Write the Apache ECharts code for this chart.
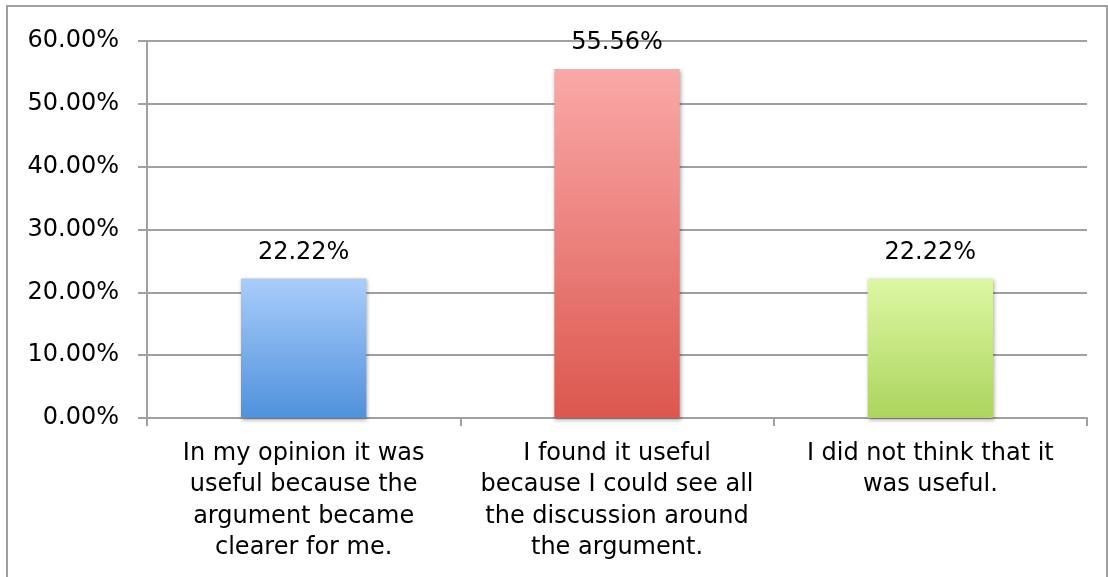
<!DOCTYPE html>
<html>
<head>
<meta charset="utf-8">
<script src="https://cdn.jsdelivr.net/npm/echarts@6/dist/echarts.min.js"></script>
<style>
html,body{margin:0;padding:0;background:#fff;}
#chart{width:1108px;height:577px;}
</style>
</head>
<body>
<div id="chart"></div>
<script>
const categories = [
  "In my opinion it was\nuseful because the\nargument became\nclearer for me.",
  "I found it useful\nbecause I could see all\nthe discussion around\nthe argument.",
  "I did not think that it\nwas useful."
];
const values = [22.22, 55.56, 22.22];
const yTicks = [0, 10, 20, 30, 40, 50, 60];
const barColors = [
  ["#a9cdfa", "#4f91dc"],
  ["#faa9a8", "#dc574e"],
  ["#ddf8a4", "#acd45d"]
];

const FONT = "DejaVu Sans";
const FS = 24;
const chart = echarts.init(document.getElementById('chart'), null, {renderer: 'canvas'});
chart.setOption({
  animation: false,
  backgroundColor: '#fff',
  graphic: [{
    type: 'rect',
    shape: {x: 7, y: 6, width: 1100, height: 600},
    style: {fill: 'none', stroke: '#a0a0a0', lineWidth: 2},
    silent: true
  }],
  grid: {left: 147, right: 21, top: 41, bottom: 159},
  xAxis: {
    type: 'category',
    data: categories,
    axisLine: {show: true, lineStyle: {color: '#a0a0a0', width: 2}},
    axisTick: {show: true, length: 8, lineStyle: {color: '#a0a0a0', width: 2}},
    axisLabel: {
      interval: 0, margin: 20, color: '#000',
      fontFamily: FONT, fontSize: FS, lineHeight: 31.5, align: 'center'
    }
  },
  yAxis: {
    type: 'value',
    min: yTicks[0], max: yTicks[yTicks.length - 1], interval: 10,
    axisLine: {show: true, lineStyle: {color: '#a0a0a0', width: 2}},
    axisTick: {show: true, length: 9, lineStyle: {color: '#a0a0a0', width: 2}},
    splitLine: {show: true, lineStyle: {color: '#a0a0a0', width: 2}},
    axisLabel: {
      margin: 28, color: '#000', fontFamily: FONT, fontSize: FS,
      formatter: v => v.toFixed(2) + '%'
    }
  },
  series: [{
    type: 'bar',
    barWidth: '40%',
    data: values.map((v, i) => ({
      value: v,
      itemStyle: {
        color: new echarts.graphic.LinearGradient(0, 0, 0, 1, [
          {offset: 0, color: barColors[i][0]},
          {offset: 1, color: barColors[i][1]}
        ]),
        shadowBlur: 4, shadowColor: 'rgba(0,0,0,0.35)', shadowOffsetX: 1, shadowOffsetY: 2
      }
    })),
    label: {
      show: true, position: 'top', distance: 14,
      color: '#000', fontFamily: FONT, fontSize: FS,
      formatter: p => p.value.toFixed(2) + '%'
    }
  }]
});
</script>
</body>
</html>
